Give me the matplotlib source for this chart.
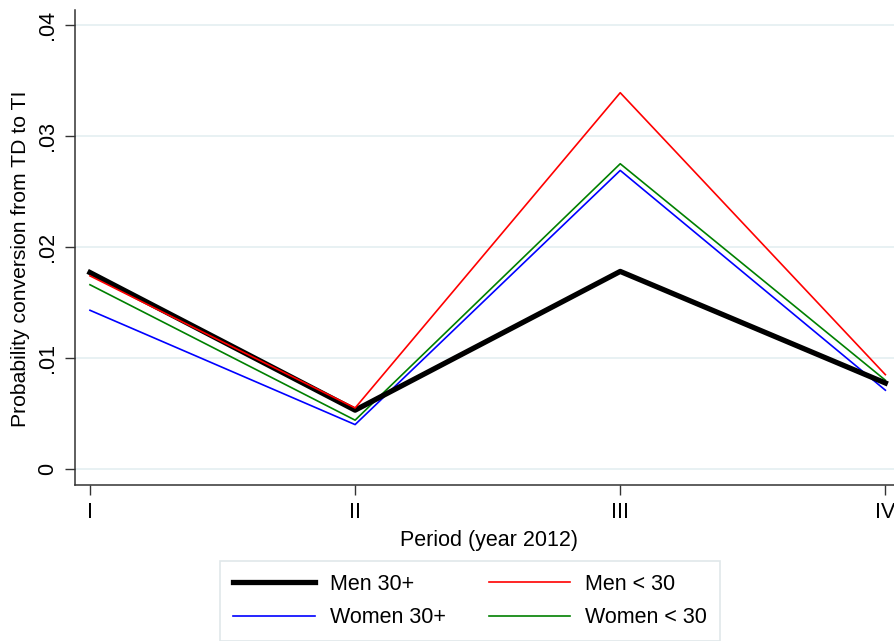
import matplotlib
matplotlib.use("Agg")
import matplotlib.pyplot as plt

plt.rcParams['font.family'] = ['Liberation Sans', 'DejaVu Sans']

periods = ["I", "II", "III", "IV"]
men_30p = [0.0177, 0.0053, 0.0178, 0.00775]
men_lt30 = [0.0174, 0.0055, 0.0339, 0.0085]
women_30p = [0.0143, 0.0040, 0.0269, 0.0071]
women_lt30 = [0.0166, 0.0044, 0.0275, 0.0080]
yticks = [0, 0.01, 0.02, 0.03, 0.04]
yticklabels = ["0", ".01", ".02", ".03", ".04"]

FS = 15.5

fig = plt.figure(figsize=(8.95, 6.41), dpi=100)
ax = fig.add_axes([75/895, 156/641, 1 - 75/895 + 0.01, 475/641])

x = list(range(1, len(periods) + 1))
for yv in yticks:
    ax.axhline(yv, color='#e6f0f2', lw=1.3, zorder=0)

l1, = ax.plot(x, men_30p, color='black', lw=3.8, label='Men 30+', zorder=3)
l2, = ax.plot(x, men_lt30, color='#ff0000', lw=1.2, label='Men < 30', zorder=4)
l3, = ax.plot(x, women_30p, color='#0000ff', lw=1.2, label='Women 30+', zorder=2)
l4, = ax.plot(x, women_lt30, color='#008000', lw=1.2, label='Women < 30', zorder=2)

ax.set_xlim(1 - 15/265.7, 4 + 8/265.7 + 0.04)
ax.set_ylim(-16/11100, (469-10)/11100)
ax.set_xticks(x)
ax.set_xticklabels(periods, fontsize=FS)
ax.set_yticks(yticks)
ax.set_yticklabels(yticklabels, fontsize=FS, rotation=90, va='center')
ax.tick_params(axis='both', direction='out', length=7, width=1, color='#333333')
ax.tick_params(axis='x', pad=5)
ax.tick_params(axis='y', pad=5)
for s in ['top', 'right']:
    ax.spines[s].set_visible(False)
for s in ['left', 'bottom']:
    ax.spines[s].set_color('#333333')
    ax.spines[s].set_linewidth(1.1)

ax.set_xlabel("Period (year 2012)", fontsize=FS, labelpad=5)
ax.set_ylabel("Probability conversion from TD to TI", fontsize=15.2)
ax.yaxis.set_label_coords(-0.054, 0.477)

leg = fig.legend([l1, l3, l2, l4], ['Men 30+', 'Women 30+', 'Men < 30', 'Women < 30'],
                 ncol=2, loc='center', bbox_to_anchor=(470/895, (641-601)/641),
                 fontsize=FS, handlelength=3.8, handletextpad=0.7, columnspacing=2.0,
                 labelspacing=0.6, borderpad=0.6, fancybox=False, framealpha=1,
                 edgecolor='#e0e8ea')
leg.get_frame().set_linewidth(1.2)

fig.savefig("out.png", dpi=100)
